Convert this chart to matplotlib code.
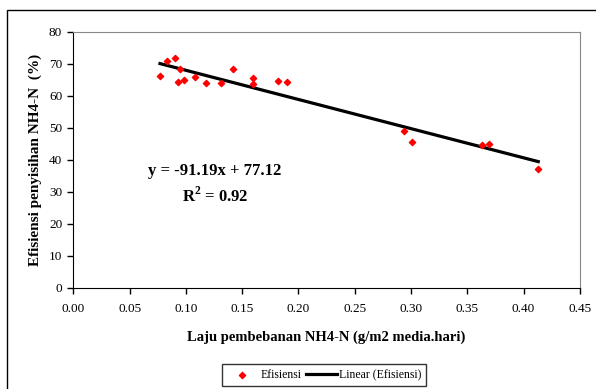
import matplotlib.pyplot as plt
from matplotlib.patches import Rectangle
import numpy as np

plt.rcParams['font.family'] = ['Liberation Serif', 'DejaVu Serif']
plt.rcParams['mathtext.fontset'] = 'custom'
plt.rcParams['mathtext.rm'] = 'Liberation Serif'
plt.rcParams['mathtext.bf'] = 'Liberation Serif:bold'

# Data
loading = [0.077, 0.083, 0.090, 0.095, 0.093, 0.098, 0.108, 0.118, 0.131,
           0.142, 0.160, 0.160, 0.182, 0.190, 0.294, 0.301, 0.363, 0.369, 0.413]
efficiency = [66.2, 70.9, 71.8, 68.5, 64.3, 65.1, 66.0, 64.0, 64.0,
              68.3, 65.7, 63.7, 64.7, 64.3, 48.9, 45.7, 44.8, 45.0, 37.1]
slope, intercept = -91.19, 77.12

fig = plt.figure(figsize=(5.96, 3.89), dpi=100)
ax = fig.add_axes([0.123, 0.260, 0.850, 0.658])

# outer chart frame
fig.patches.append(Rectangle((0.012, -0.1), 1.2, 1.074, transform=fig.transFigure,
                             fill=False, edgecolor='black', linewidth=1.0))

ax.scatter(loading, efficiency, marker='D', s=10, color='red', label='Efisiensi', zorder=3)
xfit = np.array([min(loading), max(loading)])
ax.plot(xfit, slope * xfit + intercept, color='black', linewidth=2.3,
        label='Linear (Efisiensi)', zorder=2)

ax.set_xlim(0, 0.45)
ax.set_ylim(0, 80)
ax.set_xticks(np.arange(0, 0.451, 0.05))
ax.set_xticklabels([f"{v:.2f}" for v in np.arange(0, 0.451, 0.05)])
ax.set_yticks(range(0, 81, 10))
ax.tick_params(labelsize=9.5, direction='out', length=4, width=1)
ax.tick_params(axis='x', pad=7)
ax.tick_params(axis='y', pad=4)

for s in ['top', 'right']:
    ax.spines[s].set_color('#888888')
for s in ['left', 'bottom']:
    ax.spines[s].set_color('black')

ax.set_xlabel('Laju pembebanan NH4-N (g/m2 media.hari)', fontsize=10.5,
              fontweight='bold', labelpad=11)
ax.set_ylabel('Efisiensi penyisihan NH4-N  (%)', fontsize=11,
              fontweight='bold', labelpad=5)

ax.text(0.126, 36.6, 'y = -91.19x + 77.12', fontsize=12, fontweight='bold',
        ha='center', va='center')
ax.text(0.126, 28.6, r'R$^{\mathbf{2}}$ = 0.92', fontsize=12, fontweight='bold',
        ha='center', va='center')

leg = fig.legend(loc='center', bbox_to_anchor=(0.544, 0.036), ncol=2, fontsize=8.5,
                 frameon=True, fancybox=False, edgecolor='black',
                 handlelength=2.6, handletextpad=0.2, columnspacing=0.4,
                 borderpad=0.4, markerscale=1.0)
leg.get_frame().set_linewidth(1.0)

fig.savefig('out.png', dpi=100)
